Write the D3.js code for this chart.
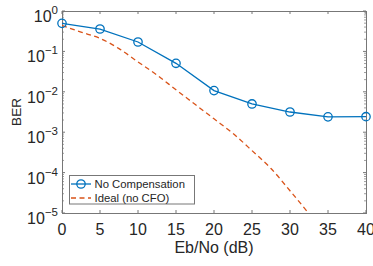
<!DOCTYPE html>
<html>
<head>
<script src="https://d3js.org/d3.v7.min.js"></script>
<style>
  body { margin: 0; background: #fff; }
  text { font-family: "Liberation Sans", Arial, sans-serif; fill: #262626; }
</style>
</head>
<body>
<svg id="svg" width="373" height="266"></svg>
<script>
// data
var snr = [0, 5, 10, 15, 20, 25, 30, 35, 40];
var berNoComp = [0.495, 0.358, 0.171, 0.0507, 0.0107, 0.0050, 0.00316, 0.0024, 0.00242];
var snrIdeal = [0, 2.5, 5, 7.5, 10, 12.5, 15, 17.5, 20, 22.5, 25, 27.5, 30, 32.5, 35];
var berIdeal = [0.44, 0.30, 0.21, 0.117, 0.055, 0.026, 0.0112, 0.0049, 0.00214, 0.00093,
                0.00035, 0.000126, 0.0000355, 0.0000095, 0.0000022];
var xTicks = [0, 5, 10, 15, 20, 25, 30, 35, 40];
var yExps = [0, -1, -2, -3, -4, -5];
var legendNames = ["No Compensation", "Ideal (no CFO)"];

var blue = "#0072BD", orange = "#D95319";
var svg = d3.select("#svg");
var L = 62, R = 366, T = 11, B = 213;

var x = d3.scaleLinear().domain([0, 40]).range([L, R]);
var y = d3.scaleLog().domain([1e-5, 1]).range([B, T]);

// minor ticks for the log axis
var minor = [];
for (var e = -5; e < 0; e++) {
  for (var m = 2; m <= 9; m++) minor.push(m * Math.pow(10, e));
}

var ax = svg.append("g").attr("stroke", "#777").attr("stroke-width", 1);
ax.append("rect").attr("x", L).attr("y", T).attr("width", R - L).attr("height", B - T)
  .attr("fill", "none").attr("shape-rendering", "crispEdges");

xTicks.forEach(function(t) {
  ax.append("line").attr("x1", x(t)).attr("x2", x(t)).attr("y1", B).attr("y2", B - 3);
  ax.append("line").attr("x1", x(t)).attr("x2", x(t)).attr("y1", T).attr("y2", T + 3);
});
yExps.forEach(function(k) {
  var v = Math.pow(10, k);
  ax.append("line").attr("x1", L).attr("x2", L + 3).attr("y1", y(v)).attr("y2", y(v));
  ax.append("line").attr("x1", R).attr("x2", R - 3).attr("y1", y(v)).attr("y2", y(v));
});
minor.forEach(function(v) {
  ax.append("line").attr("x1", L).attr("x2", L + 2).attr("y1", y(v)).attr("y2", y(v)).attr("stroke-width", 0.7);
  ax.append("line").attr("x1", R).attr("x2", R - 2).attr("y1", y(v)).attr("y2", y(v)).attr("stroke-width", 0.7);
});

// tick labels
xTicks.forEach(function(t) {
  svg.append("text").attr("x", x(t)).attr("y", 235).attr("text-anchor", "middle")
    .style("font-size", "16px").text(t);
});
yExps.forEach(function(k) {
  var ty = y(Math.pow(10, k));
  var g = svg.append("text").attr("x", 58).attr("y", ty + 11).attr("text-anchor", "end")
    .style("font-size", "16px");
  g.append("tspan").text("10");
  g.append("tspan").attr("dy", -8).style("font-size", "11.5px").text(k === 0 ? "0" : "\u2212" + (-k));
});

svg.append("text").attr("x", (L + R) / 2).attr("y", 253).attr("text-anchor", "middle")
  .style("font-size", "16px").text("Eb/No (dB)");
svg.append("text").attr("transform", "translate(21," + ((T + B) / 2) + ") rotate(-90)")
  .attr("text-anchor", "middle").style("font-size", "13.5px").text("BER");

// plot area clip
svg.append("clipPath").attr("id", "clip").append("rect")
  .attr("x", L).attr("y", T).attr("width", R - L).attr("height", B - T);
var plot = svg.append("g").attr("clip-path", "url(#clip)");

var lineIdeal = d3.line().x(function(d, i) { return x(snrIdeal[i]); })
  .y(function(d) { return y(d); }).curve(d3.curveMonotoneX);
plot.append("path").datum(berIdeal).attr("d", lineIdeal)
  .attr("fill", "none").attr("stroke", orange).attr("stroke-width", 1.3)
  .attr("stroke-dasharray", "5,3.5");

var lineNC = d3.line().x(function(d, i) { return x(snr[i]); }).y(function(d) { return y(d); });
svg.append("path").datum(berNoComp).attr("d", lineNC)
  .attr("fill", "none").attr("stroke", blue).attr("stroke-width", 1.3);
svg.selectAll("circle.m").data(berNoComp).enter().append("circle").attr("class", "m")
  .attr("cx", function(d, i) { return x(snr[i]); }).attr("cy", function(d) { return y(d); })
  .attr("r", 4.2).attr("fill", "none").attr("stroke", blue).attr("stroke-width", 1.3);

// legend
var lg = svg.append("g");
lg.append("rect").attr("x", 69.5).attr("y", 175.5).attr("width", 125).attr("height", 28.5)
  .attr("fill", "#fff").attr("stroke", "#777").attr("stroke-width", 1);
lg.append("line").attr("x1", 71).attr("x2", 91).attr("y1", 184).attr("y2", 184)
  .attr("stroke", blue).attr("stroke-width", 1.3);
lg.append("circle").attr("cx", 81).attr("cy", 184).attr("r", 4.2)
  .attr("fill", "none").attr("stroke", blue).attr("stroke-width", 1.3);
lg.append("line").attr("x1", 71).attr("x2", 91).attr("y1", 198).attr("y2", 198)
  .attr("stroke", orange).attr("stroke-width", 1.3).attr("stroke-dasharray", "5,3.5");
legendNames.forEach(function(n, i) {
  lg.append("text").attr("x", 94.5).attr("y", 188 + i * 14).style("font-size", "11.3px").text(n);
});
</script>
</body>
</html>
